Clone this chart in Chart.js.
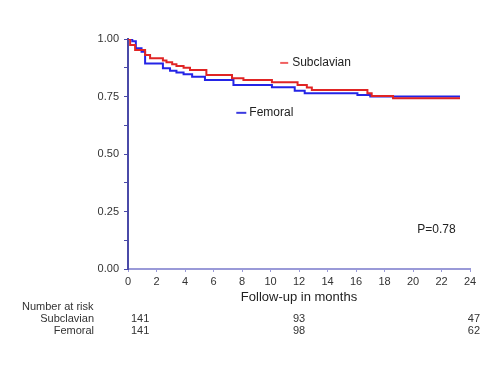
<!DOCTYPE html>
<html>
<head>
<meta charset="utf-8">
<script src="https://cdn.jsdelivr.net/npm/chart.js@4.4.1/dist/chart.umd.min.js"></script>
<style>
  html, body { margin: 0; padding: 0; background: #fff; }
  #wrap { width: 500px; height: 391px; position: relative; }
</style>
</head>
<body>
<div id="wrap"><canvas id="km"></canvas></div>
<script>
// Kaplan-Meier curves (months, survival)
const subTimes = [0, 0.15, 0.5, 1.2, 1.55, 2.45, 2.7, 3.1, 3.4, 3.9, 4.35, 5.5, 7.3, 8.1, 10.1, 11.9, 12.55, 12.9, 16.8, 17.1, 18.6, 23.3];
const subSurv  = [1.0, 0.974, 0.952, 0.93, 0.916, 0.906, 0.899, 0.89, 0.883, 0.875, 0.865, 0.843, 0.829, 0.822, 0.812, 0.80, 0.789, 0.778, 0.764, 0.752, 0.742, 0.742];

const femTimes = [0, 0.3, 0.55, 0.95, 1.2, 2.45, 2.95, 3.4, 3.9, 4.5, 5.4, 7.4, 10.1, 11.7, 12.4, 16.1, 17.0, 23.3];
const femSurv  = [1.0, 0.99, 0.96, 0.945, 0.894, 0.873, 0.862, 0.854, 0.847, 0.836, 0.822, 0.80, 0.79, 0.775, 0.764, 0.757, 0.75, 0.75];

// number at risk table
const riskTimes = [0, 12, 24];
const subRisk = [141, 93, 47];
const femRisk = [141, 98, 62];

const pValue = 'P=0.78';

function toPoints(xs, ys) {
    return xs.map((x, i) => ({ x: x, y: ys[i] }));
}

// extra text: legend labels, p value, x title and risk table
const extras = {
    id: 'extras',
    afterDraw(chart) {
        const ctx = chart.ctx;
        const xs = chart.scales.x;
        const ys = chart.scales.y;
        const area = chart.chartArea;
        ctx.save();
        ctx.textBaseline = 'middle';

        // legend labels next to curves
        ctx.font = '12px "Liberation Sans", Arial, sans-serif';
        ctx.lineWidth = 2;
        let lx = xs.getPixelForValue(10.68), ly = ys.getPixelForValue(0.896);
        ctx.strokeStyle = '#f06060';
        ctx.beginPath(); ctx.moveTo(lx, ly); ctx.lineTo(lx + 8, ly); ctx.stroke();
        ctx.fillStyle = '#222';
        ctx.textAlign = 'left';
        ctx.fillText('Subclavian', lx + 12, ly);

        lx = xs.getPixelForValue(7.6); ly = ys.getPixelForValue(0.679);
        ctx.strokeStyle = '#3a3ae0';
        ctx.beginPath(); ctx.moveTo(lx, ly); ctx.lineTo(lx + 10, ly); ctx.stroke();
        ctx.fillText('Femoral', lx + 13, ly);

        ctx.fillText(pValue, xs.getPixelForValue(20.3), ys.getPixelForValue(0.17));

        // x axis title
        ctx.font = '13px "Liberation Sans", Arial, sans-serif';
        ctx.textAlign = 'center';
        ctx.fillText('Follow-up in months', (area.left + area.right) / 2, area.bottom + 28);

        // number at risk
        ctx.font = '11px "Liberation Sans", Arial, sans-serif';
        ctx.fillStyle = '#333';
        ctx.textAlign = 'left';
        ctx.fillText('Number at risk', 22, area.bottom + 38);
        ctx.textAlign = 'right';
        ctx.fillText('Subclavian', 94, area.bottom + 50);
        ctx.fillText('Femoral', 94, area.bottom + 62);
        const rows = [[subRisk, area.bottom + 50], [femRisk, area.bottom + 62]];
        rows.forEach(function (r) {
            r[0].forEach(function (n, i) {
                const px = xs.getPixelForValue(riskTimes[i]);
                if (i === 0) { ctx.textAlign = 'left'; ctx.fillText(n, px + 3, r[1]); }
                else if (i === riskTimes.length - 1) { ctx.textAlign = 'right'; ctx.fillText(n, px + 10, r[1]); }
                else { ctx.textAlign = 'center'; ctx.fillText(n, px, r[1]); }
            });
        });
        ctx.restore();
    }
};

new Chart(document.getElementById('km').getContext('2d'), {
    type: 'line',
    data: {
        datasets: [{
            label: 'Subclavian',
            data: toPoints(subTimes, subSurv),
            borderColor: '#e02424',
            borderWidth: 2,
            stepped: true,
            pointRadius: 0,
            fill: false
        }, {
            label: 'Femoral',
            data: toPoints(femTimes, femSurv),
            borderColor: '#2424e6',
            borderWidth: 2,
            stepped: true,
            pointRadius: 0,
            fill: false
        }]
    },
    options: {
        responsive: true,
        maintainAspectRatio: false,
        animation: false,
        layout: { padding: { top: 39, right: 30, left: 0, bottom: 0 } },
        plugins: {
            legend: { display: false },
            tooltip: { enabled: false }
        },
        scales: {
            x: {
                type: 'linear',
                min: 0,
                max: 24,
                afterFit: function (scale) { scale.height = 122; },
                border: { color: '#9a9ad8', width: 2 },
                grid: { display: true, drawOnChartArea: false, drawTicks: true, tickLength: 3, color: '#9a9ad8' },
                ticks: {
                    stepSize: 2,
                    color: '#333',
                    padding: 3,
                    maxRotation: 0,
                    font: { family: '"Liberation Sans", Arial, sans-serif', size: 11 }
                }
            },
            y: {
                min: 0,
                max: 1,
                afterFit: function (scale) { scale.width = 128; },
                border: { color: '#4a4aa8', width: 2 },
                grid: { display: true, drawOnChartArea: false, drawTicks: true, tickLength: 4, color: '#4a4aa8' },
                ticks: {
                    stepSize: 0.125,
                    color: '#333',
                    padding: 5,
                    font: { family: '"Liberation Sans", Arial, sans-serif', size: 11 },
                    callback: function (v) {
                        return Math.abs(v * 4 - Math.round(v * 4)) < 1e-6 ? v.toFixed(2) : '';
                    }
                }
            }
        }
    },
    plugins: [extras]
});
</script>
</body>
</html>
